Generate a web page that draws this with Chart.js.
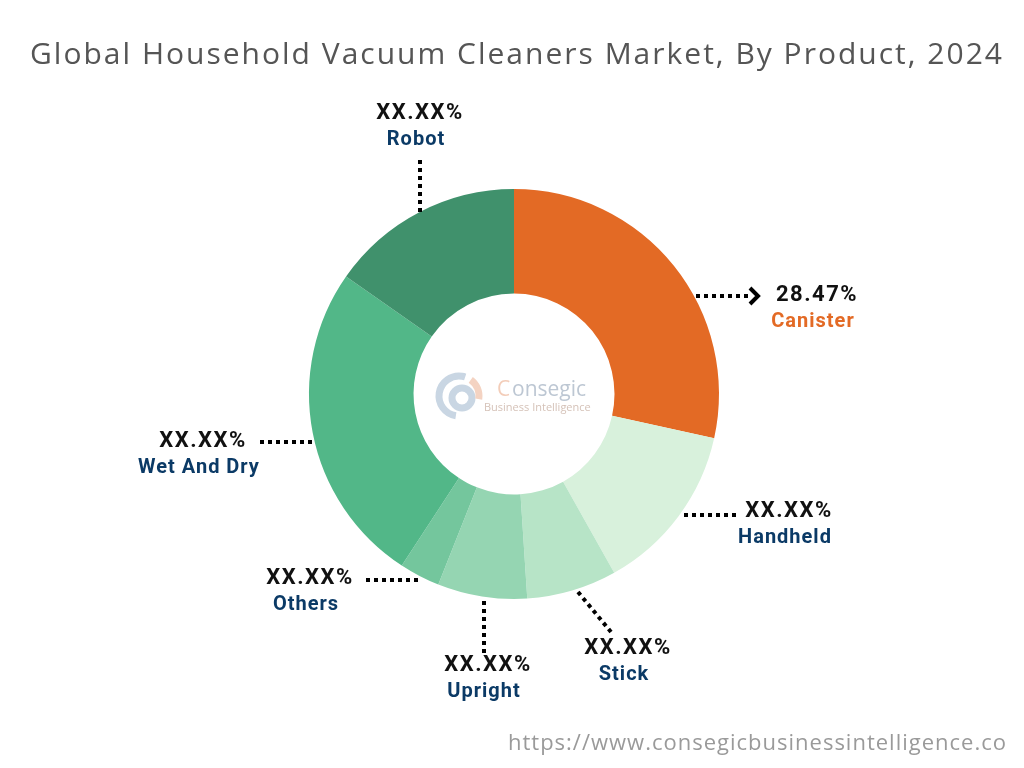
<!DOCTYPE html>
<html>
<head>
<meta charset="utf-8">
<script src="https://cdn.jsdelivr.net/npm/chart.js@4"></script>
<style>
  html, body { margin: 0; padding: 0; background: #fff; }
  #wrap { width: 1024px; height: 768px; position: relative; }
</style>
</head>
<body>
<div id="wrap"><canvas id="myChart"></canvas></div>
<script>
// segments, clockwise from 12 o'clock
const categories = ['Canister', 'Handheld', 'Stick', 'Upright', 'Others', 'Wet And Dry', 'Robot'];
const shares = [28.47, 13.4, 7.1, 7.05, 3.2, 25.5, 15.28];
const shareLabels = ['28.47%', 'XX.XX%', 'XX.XX%', 'XX.XX%', 'XX.XX%', 'XX.XX%', 'XX.XX%'];
const colors = ['#E36A25', '#D8F1DC', '#B7E4C7', '#95D5B2', '#74C69D', '#52B788', '#40916C'];

// label text positions + leader line (x1,y1 -> x2,y2)
const callouts = [
  { tx: 817, ty: 295, nameColor: '#E36A25', line: [696, 296, 748, 296], arrow: true },
  { tx: 789, ty: 511, line: [684, 515, 736, 515] },
  { tx: 628, ty: 648, line: [578, 592, 611, 632] },
  { tx: 488, ty: 665, line: [484, 601, 484, 654] },
  { tx: 310, ty: 578, line: [366, 580, 418, 580] },
  { tx: 203, ty: 441, line: [260, 442, 312, 442] },
  { tx: 420, ty: 113, line: [420, 160, 420, 212] }
];

const calloutPlugin = {
  id: 'callouts',
  afterDraw(chart) {
    const c = chart.ctx;
    c.save();
    // title
    c.fillStyle = '#555555';
    c.font = '30px "Open Sans", sans-serif';
    c.letterSpacing = '2px';
    c.textAlign = 'center';
    c.textBaseline = 'middle';
    c.fillText('Global Household Vacuum Cleaners Market, By Product, 2024', 517, 55);

    // url
    c.fillStyle = '#9a9a9a';
    c.font = '22px "Open Sans", sans-serif';
    c.letterSpacing = '1px';
    c.textAlign = 'right';
    c.fillText('https://www.consegicbusinessintelligence.co', 1007, 744);
    c.letterSpacing = '0px';

    // watermark logo in the hole
    c.lineWidth = 7;
    c.strokeStyle = '#C9D6E3';
    c.beginPath();
    c.arc(459, 396, 20, Math.PI * 0.55, Math.PI * 1.6);
    c.stroke();
    c.beginPath();
    c.arc(462, 398, 10, 0, Math.PI * 2);
    c.stroke();
    c.strokeStyle = '#F4D3C2';
    c.beginPath();
    c.arc(459, 396, 20, Math.PI * 1.7, Math.PI * 2.05);
    c.stroke();
    c.textAlign = 'left';
    c.font = '21px "Open Sans", sans-serif';
    c.fillStyle = '#F3CDB9';
    c.fillText('C', 497, 390);
    c.fillStyle = '#BDC7D3';
    c.fillText('onsegic', 512, 390);
    c.font = '11px "Open Sans", sans-serif';
    c.fillStyle = '#D5C2B8';
    c.fillText('Business Intelligence', 484, 408);

    // leader lines
    c.strokeStyle = '#000';
    c.lineWidth = 4;
    c.setLineDash([4, 4]);
    callouts.forEach(o => {
      const [x1, y1, x2, y2] = o.line;
      c.beginPath();
      c.moveTo(x1, y1);
      c.lineTo(x2, y2);
      c.stroke();
      if (o.arrow) {
        c.setLineDash([]);
        c.lineWidth = 4;
        c.beginPath();
        c.moveTo(x2 + 2, y2 - 8);
        c.lineTo(x2 + 10, y2);
        c.lineTo(x2 + 2, y2 + 8);
        c.stroke();
        c.setLineDash([4, 4]);
      }
    });
    c.setLineDash([]);

    // label text
    c.textAlign = 'center';
    categories.forEach((name, i) => {
      const o = callouts[i];
      c.fillStyle = '#111';
      c.font = 'bold 22px "Roboto", sans-serif';
      c.letterSpacing = '1.5px';
      c.fillText(shareLabels[i], o.tx, o.ty);
      c.fillStyle = o.nameColor || '#0B3A66';
      c.font = 'bold 20px "Roboto", sans-serif';
      c.letterSpacing = '1px';
      c.fillText(name, o.tx - 4, o.ty + 27);
    });
    c.restore();
  }
};

const ctx = document.getElementById('myChart');

new Chart(ctx, {
  type: 'doughnut',
  data: {
    labels: categories,
    datasets: [{
      data: shares,
      backgroundColor: colors,
      borderWidth: 0
    }]
  },
  options: {
    responsive: true,
    maintainAspectRatio: false,
    animation: false,
    cutout: '49%',
    layout: {
      padding: { left: 200, right: 196, top: 189, bottom: 169 }
    },
    plugins: {
      legend: { display: false },
      tooltip: { enabled: false },
      title: { display: false }
    }
  },
  plugins: [calloutPlugin]
});
</script>
</body>
</html>
